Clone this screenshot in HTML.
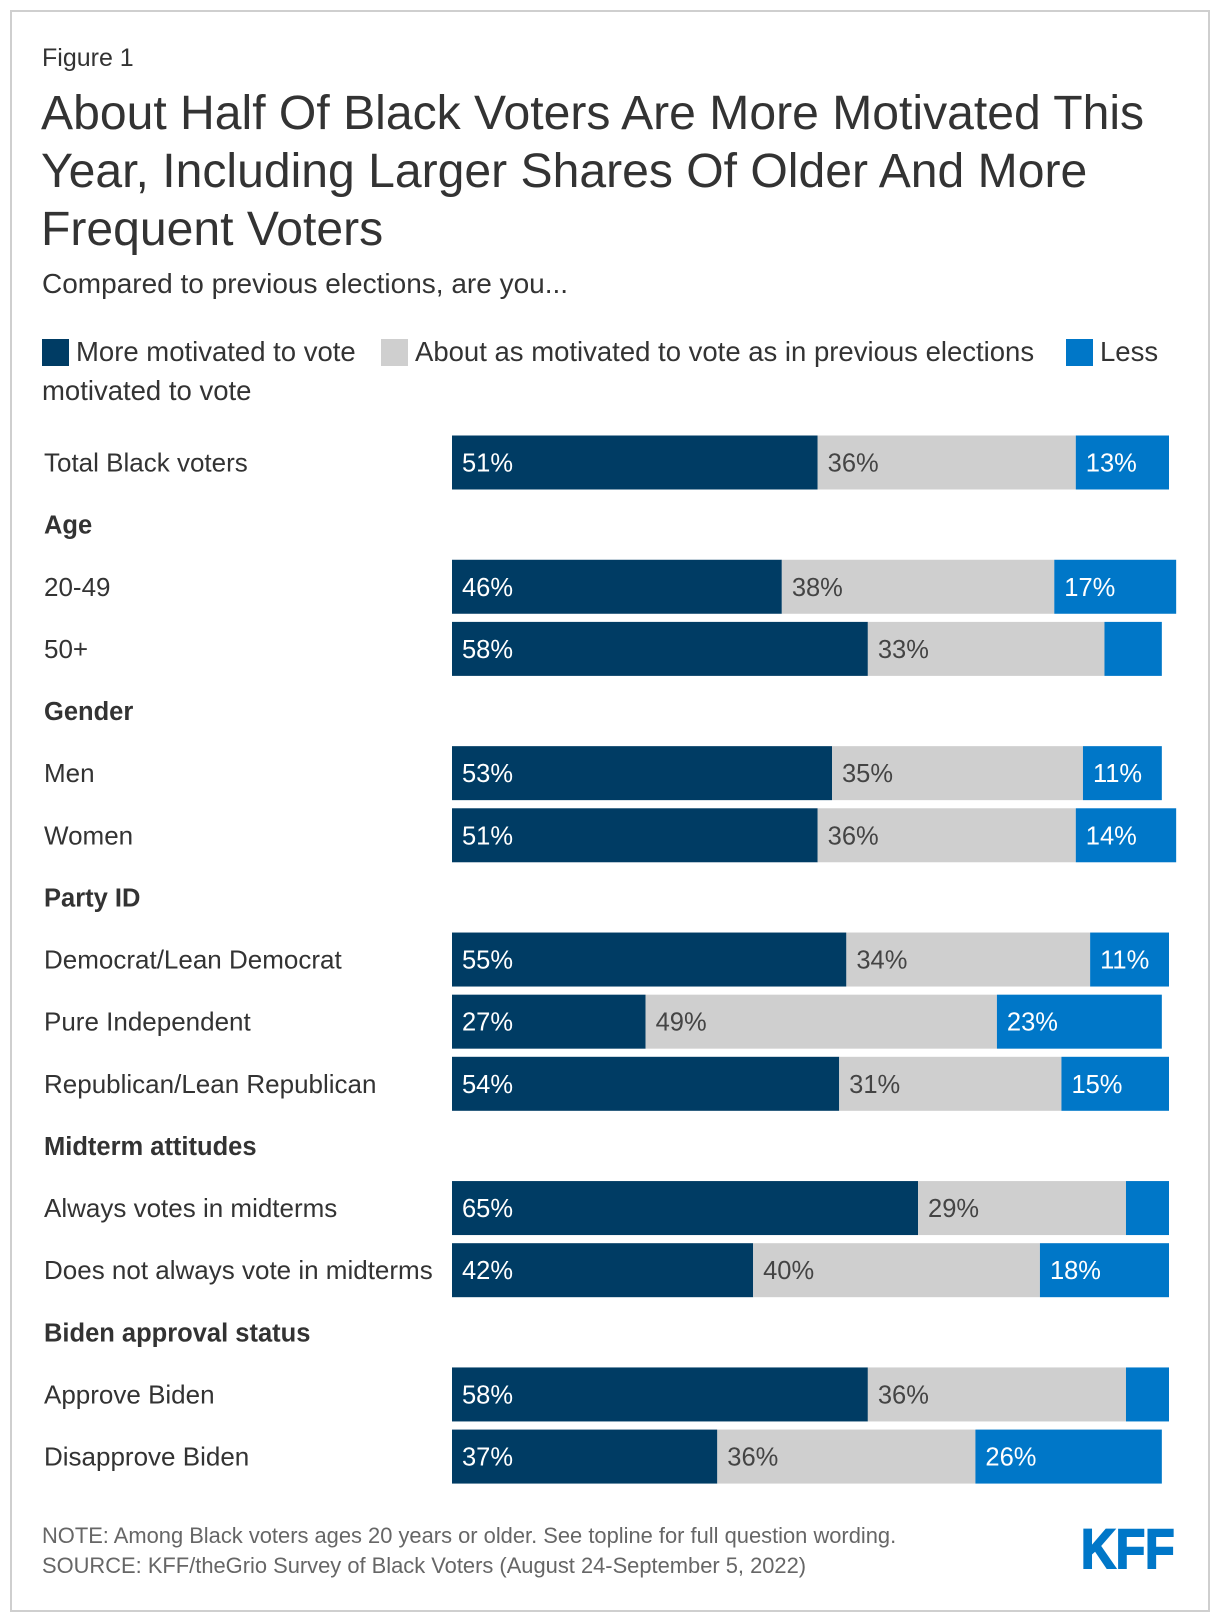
<!DOCTYPE html>
<html><head><meta charset="utf-8"><style>
html,body{margin:0;padding:0;background:#fff;}
body{width:1220px;height:1624px;position:relative;overflow:hidden;font-family:"Liberation Sans",Arial,sans-serif;}
#frame{position:absolute;left:10px;top:10px;width:1196px;height:1598px;border:2px solid #cfcfcf;}
svg{position:absolute;left:0;top:0;}
</style></head><body>
<div id="frame"></div>
<svg id="chart" width="1220" height="1624">
  <text x="42" y="66" font-size="25" fill="#333">Figure 1</text>
  <g font-size="48.1" fill="#333">
    <text x="41" y="129">About Half Of Black Voters Are More Motivated This</text>
    <text x="41" y="187">Year, Including Larger Shares Of Older And More</text>
    <text x="41" y="245">Frequent Voters</text>
  </g>
  <text x="42" y="293" font-size="28" fill="#333">Compared to previous elections, are you...</text>
  <g font-size="27.5" fill="#333">
    <rect x="42" y="339" width="27" height="27" fill="#003c64"/>
    <text x="76" y="361">More motivated to vote</text>
    <rect x="381" y="339" width="27" height="27" fill="#cfcfcf"/>
    <text x="415" y="361">About as motivated to vote as in previous elections</text>
    <rect x="1066" y="339" width="27" height="27" fill="#0077c8"/>
    <text x="1100" y="361">Less</text>
    <text x="42" y="400">motivated to vote</text>
  </g>
  <g id="rows"></g>
  <g font-size="21.9" fill="#666">
    <text x="42" y="1543">NOTE: Among Black voters ages 20 years or older. See topline for full question wording.</text>
    <text x="42" y="1573">SOURCE: KFF/theGrio Survey of Black Voters (August 24-September 5, 2022)</text>
  </g>
  <text x="1081" y="1568" font-size="56" font-weight="bold" fill="#0077c8" stroke="#0077c8" stroke-width="2" transform="translate(1081 0) scale(0.86 1) translate(-1081 0)">KFF</text>
</svg>
<script>
const categories = ["Total Black voters","Age","20-49","50+","Gender","Men","Women","Party ID","Democrat/Lean Democrat","Pure Independent","Republican/Lean Republican","Midterm attitudes","Always votes in midterms","Does not always vote in midterms","Biden approval status","Approve Biden","Disapprove Biden"];
const isHeader = [false,true,false,false,true,false,false,true,false,false,false,true,false,false,true,false,false];
const moreVals = [51,null,46,58,null,53,51,null,55,27,54,null,65,42,null,58,37];
const sameVals = [36,null,38,33,null,35,36,null,34,49,31,null,29,40,null,36,36];
const lessVals = [13,null,17,8,null,11,14,null,11,23,15,null,6,18,null,6,26];

const NS = "http://www.w3.org/2000/svg";
const g = document.getElementById("rows");
const x0 = 452, pxPer = 7.17, y0 = 435.5, pitch = 62.13, barH = 54;
const xScale = v => v * pxPer;
const yScale = i => y0 + i * pitch;
function mk(tag, attrs){const e=document.createElementNS(NS,tag);for(const k in attrs)e.setAttribute(k,attrs[k]);return e;}

categories.forEach((cat,i)=>{
  const yc = yScale(i) + barH/2;
  const lab = mk("text",{x:44,y:yc+9,"font-size":isHeader[i]?25.5:26,fill:"#333","font-weight":isHeader[i]?"bold":"normal"});
  lab.textContent = cat;
  
  
  g.appendChild(lab);
  if (isHeader[i]) return;
  const segs = [[moreVals[i],"#003c64","#fff","more"],[sameVals[i],"#cfcfcf","#444","same"],[lessVals[i],"#0077c8","#fff","less"]];
  let x = x0;
  segs.forEach(([v,fill,tc,key])=>{
    const w = xScale(v);
    const r = mk("rect",{x:x,y:yScale(i),width:w,height:barH,fill:fill});
    
    
    g.appendChild(r);
    if (v >= 10) {
      const t = mk("text",{x:x+10,y:yc+9,"font-size":25.5,fill:tc});
      t.textContent = v + "%";
      
      
      g.appendChild(t);
    }
    x += w;
  });
});
</script>
</body></html>
